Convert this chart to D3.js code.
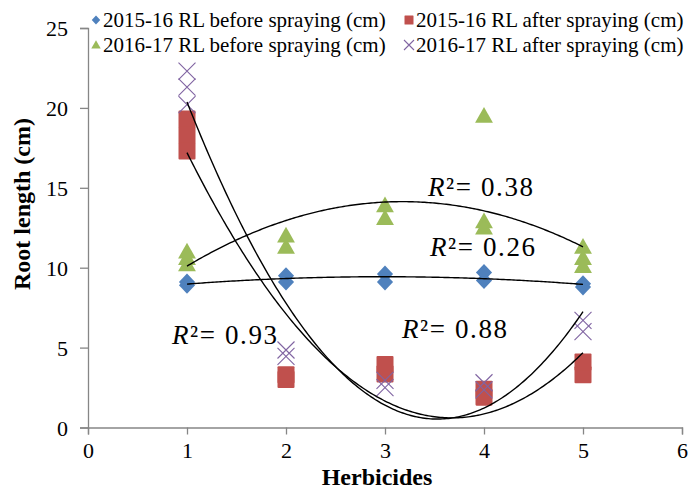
<!DOCTYPE html>
<html>
<head>
<meta charset="utf-8">
<script src="https://cdn.jsdelivr.net/npm/d3@7"></script>
<style>
  html, body { margin: 0; padding: 0; background: #fff; }
  svg { display: block; }
  text { font-family: "Liberation Serif", "Times New Roman", serif; }
</style>
</head>
<body>
<svg id="chart" width="691" height="490"></svg>
<script>
// ---- Data ----
const herbicides = [1, 2, 3, 4, 5];
const xTicks = [0, 1, 2, 3, 4, 5, 6];
const yTicks = [0, 5, 10, 15, 20, 25];

// replicate root-length values (cm) per herbicide
const rl1516Before = [[8.9, 9.1], [9.1, 9.5], [9.1, 9.6], [9.2, 9.7], [8.8, 9.0]];
const rl1516After  = [[19.3, 18.3, 17.3], [3.0, 3.3], [3.35, 3.95], [1.9, 2.4], [3.3, 4.1]];
const rl1617Before = [[10.2, 10.6, 11.0], [11.3, 12.0], [13.1, 13.9], [19.5, 12.9, 12.5], [10.1, 10.6, 11.3]];
const rl1617After  = [[22.3, 21.3, 20.2], [4.45, 4.85], [2.5, 2.95], [2.35, 2.8], [6.0, 6.7]];

const seriesNames = [
  "2015-16 RL before spraying (cm)",
  "2015-16 RL after spraying (cm)",
  "2016-17 RL before spraying (cm)",
  "2016-17 RL after spraying (cm)"
];
const rSquaredLabels = ["0.26", "0.93", "0.38", "0.88"];

// ---- Layout ----
const svg = d3.select("#chart");
const x = d3.scaleLinear().domain([0, 6]).range([88, 682]);
const y = d3.scaleLinear().domain([0, 25]).range([427.5, 28]);
const axisColor = "#868686";

const colors = ["#4F81BD", "#C0504D", "#9BBB59", "#8064A2"];
const shapes = ["diamond", "square", "triangle", "cross"];
const allSeries = [rl1516Before, rl1516After, rl1617Before, rl1617After];

// ---- Axes ----
const yAxis = svg.append("g").attr("transform", `translate(${x(0)},0)`)
  .call(d3.axisLeft(y).tickValues(yTicks).tickFormat(d3.format("d")).tickSize(8).tickPadding(12));
const xAxis = svg.append("g").attr("transform", `translate(0,${y(0)})`)
  .call(d3.axisBottom(x).tickValues(xTicks).tickFormat(d3.format("d")).tickSize(7).tickPadding(8));
[xAxis, yAxis].forEach(g => {
  g.attr("font-family", null);
  g.select(".domain").attr("stroke", axisColor).attr("stroke-width", 1.3);
  g.selectAll(".tick line").attr("stroke", axisColor).attr("stroke-width", 1.3);
  g.selectAll(".tick text").attr("fill", "#000")
    .style("font-family", "'Liberation Serif', serif").style("font-size", "22px");
});
yAxis.selectAll(".tick text").attr("dy", "0.35em");

// axis titles
svg.append("text").attr("x", 377).attr("y", 485)
  .attr("text-anchor", "middle").style("font-weight", "bold").style("font-size", "24px")
  .text("Herbicides");
svg.append("text").attr("transform", `translate(30,204) rotate(-90)`)
  .attr("text-anchor", "middle").style("font-weight", "bold").style("font-size", "24px")
  .text("Root length (cm)");

// ---- Marker drawing ----
function marker(g, shape, color, s) {
  if (shape === "diamond") {
    g.append("path").attr("d", `M0,${-s}L${s * 0.95},0L0,${s}L${-s * 0.95},0Z`).attr("fill", color);
  } else if (shape === "square") {
    g.append("rect").attr("x", -s).attr("y", -s).attr("width", 2 * s).attr("height", 2 * s)
      .attr("rx", s * 0.12).attr("fill", color);
  } else if (shape === "triangle") {
    g.append("path").attr("d", `M0,${-s * 1.05}L${s * 1.05},${s * 0.8}L${-s * 1.05},${s * 0.8}Z`).attr("fill", color);
  } else {
    g.append("path").attr("d", `M${-s},${-s}L${s},${s}M${-s},${s}L${s},${-s}`)
      .attr("stroke", color).attr("stroke-width", 1.1).attr("fill", "none");
  }
}

// ---- Points ----
const sizes = [8.5, 8.5, 8.5, 8.5];
allSeries.forEach((data, si) => {
  const g = svg.append("g");
  data.forEach((vals, i) => vals.forEach(v => {
    const mg = g.append("g").attr("transform", `translate(${x(herbicides[i])},${y(v)})`);
    marker(mg, shapes[si], colors[si], sizes[si]);
  }));
});

// ---- Quadratic trendlines (least squares) ----
function quadFit(data) {
  const pts = [];
  data.forEach((vals, i) => vals.forEach(v => pts.push([herbicides[i], v])));
  const S = [[0,0,0],[0,0,0],[0,0,0]], B = [0,0,0];
  pts.forEach(([px, py]) => {
    const r = [1, px, px * px];
    for (let a = 0; a < 3; a++) { B[a] += r[a] * py; for (let b = 0; b < 3; b++) S[a][b] += r[a] * r[b]; }
  });
  const M = S.map((row, i) => row.concat([B[i]]));
  for (let c = 0; c < 3; c++) {
    let p = c; for (let r = c + 1; r < 3; r++) if (Math.abs(M[r][c]) > Math.abs(M[p][c])) p = r;
    [M[c], M[p]] = [M[p], M[c]];
    for (let r = 0; r < 3; r++) if (r !== c) {
      const f = M[r][c] / M[c][c];
      for (let k = c; k < 4; k++) M[r][k] -= f * M[c][k];
    }
  }
  return [M[0][3] / M[0][0], M[1][3] / M[1][1], M[2][3] / M[2][2]];
}
const line = d3.line().x(d => x(d[0])).y(d => y(d[1]));
allSeries.forEach(data => {
  const [a, b, c] = quadFit(data);
  const xs = d3.range(1, 5.0001, 0.02);
  svg.append("path").datum(xs.map(t => [t, a + b * t + c * t * t]))
    .attr("d", line).attr("fill", "none").attr("stroke", "#000").attr("stroke-width", 1.4);
});

// ---- R² labels ----
const rPos = [[430, 256], [172, 344], [428, 196], [402, 338]];
rSquaredLabels.forEach((lab, i) => {
  const t = svg.append("text").attr("x", rPos[i][0]).attr("y", rPos[i][1])
    .style("font-size", "27px").style("letter-spacing", "1.6px");
  t.append("tspan").style("font-style", "italic").text("R");
  t.append("tspan").text("²= " + lab);
});

// ---- Legend ----
const legPos = [[96, 20], [409, 20], [96, 45], [409, 45]];
seriesNames.forEach((name, i) => {
  const g = svg.append("g").attr("transform", `translate(${legPos[i][0]},${legPos[i][1]})`);
  marker(g, shapes[i], colors[i], i === 3 ? 5 : 4.5);
  g.append("text").attr("x", 7).attr("y", 0).attr("dy", "0.35em")
    .style("font-size", "21px").text(name);
});
</script>
</body>
</html>
